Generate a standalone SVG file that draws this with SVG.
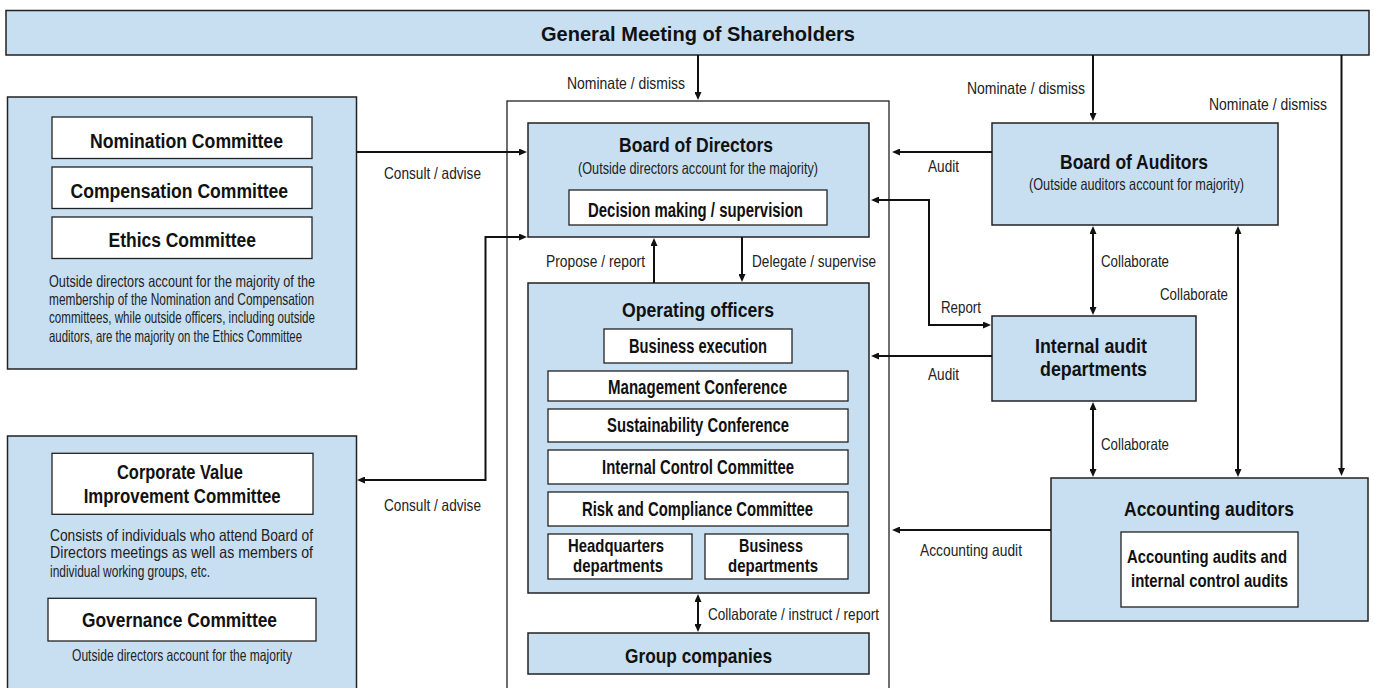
<svg xmlns="http://www.w3.org/2000/svg" width="1375" height="688" viewBox="0 0 1375 688">
<defs>
<marker id="ah" markerUnits="userSpaceOnUse" markerWidth="8" markerHeight="7" refX="3" refY="3.5" orient="auto-start-reverse"><path d="M0,0 L8,3.5 L0,7 z" fill="#111"/></marker>
</defs>
<style>
.blue{fill:#c8dff2;stroke:#222;stroke-width:1.5}
.white{fill:#fff;stroke:#222;stroke-width:1.3}
.frame{fill:none;stroke:#222;stroke-width:1.3}
text{font-family:"Liberation Sans Narrow","Liberation Sans",Arial,sans-serif;fill:#111}
.b{font-weight:bold}
.h1{font-size:21px}
.h2{font-size:19.5px}
.h3{font-size:18.5px}
.l{font-size:16.5px;fill:#222}
.c{fill:none;stroke:#111;stroke-width:2}
</style>
<rect x="0" y="0" width="1375" height="688" fill="#fff"/>

<g id="shareholders">
<rect class="blue" x="6" y="10.5" width="1363" height="44.5"/>
<text class="b h1" x="541" y="40.5" textLength="314" lengthAdjust="spacingAndGlyphs">General Meeting of Shareholders</text>
</g>

<g id="committees">
<rect class="blue" x="7.5" y="97" width="349" height="272"/>
<rect class="white" x="52" y="117" width="260" height="41.5"/>
<text class="b h2" x="90" y="148.3" textLength="193" lengthAdjust="spacingAndGlyphs">Nomination Committee</text>
<rect class="white" x="52" y="167" width="260" height="41.5"/>
<text class="b h2" x="70.6" y="197.5" textLength="217.5" lengthAdjust="spacingAndGlyphs">Compensation Committee</text>
<rect class="white" x="52" y="217" width="260" height="41.5"/>
<text class="b h2" x="108.5" y="247.3" textLength="147.5" lengthAdjust="spacingAndGlyphs">Ethics Committee</text>
<text class="l" x="49" y="286.5" textLength="266" lengthAdjust="spacingAndGlyphs">Outside directors account for the majority of the</text>
<text class="l" x="49" y="305" textLength="265" lengthAdjust="spacingAndGlyphs">membership of the Nomination and Compensation</text>
<text class="l" x="49" y="323.3" textLength="266" lengthAdjust="spacingAndGlyphs">committees, while outside officers, including outside</text>
<text class="l" x="49" y="341.7" textLength="253" lengthAdjust="spacingAndGlyphs">auditors, are the majority on the Ethics Committee</text>
</g>

<g id="corporate-value">
<rect class="blue" x="7.5" y="436" width="349" height="270"/>
<rect class="white" x="52" y="453.3" width="261" height="61"/>
<text class="b h2" x="117" y="479.3" textLength="126" lengthAdjust="spacingAndGlyphs">Corporate Value</text>
<text class="b h2" x="83.7" y="502.7" textLength="197" lengthAdjust="spacingAndGlyphs">Improvement Committee</text>
<text class="l" x="50" y="540.5" textLength="263" lengthAdjust="spacingAndGlyphs">Consists of individuals who attend Board of</text>
<text class="l" x="50" y="558.3" textLength="263" lengthAdjust="spacingAndGlyphs">Directors meetings as well as members of</text>
<text class="l" x="50" y="576.7" textLength="160" lengthAdjust="spacingAndGlyphs">individual working groups, etc.</text>
<rect class="white" x="48" y="598.3" width="268" height="42.7"/>
<text class="b h2" x="82" y="627.3" textLength="195" lengthAdjust="spacingAndGlyphs">Governance Committee</text>
<text class="l" x="72" y="660.7" textLength="220" lengthAdjust="spacingAndGlyphs">Outside directors account for the majority</text>
</g>

<g id="company-frame">
<rect class="frame" x="507" y="101" width="382" height="620"/>
</g>

<g id="board-of-directors">
<rect class="blue" x="528" y="123" width="341" height="114"/>
<text class="b h1" x="619" y="152" textLength="154" lengthAdjust="spacingAndGlyphs">Board of Directors</text>
<text class="l" x="578" y="174" textLength="240" lengthAdjust="spacingAndGlyphs">(Outside directors account for the majority)</text>
<rect class="white" x="569" y="190" width="258" height="35"/>
<text class="b h2" x="588" y="217" textLength="215" lengthAdjust="spacingAndGlyphs">Decision making / supervision</text>
</g>

<g id="operating-officers">
<rect class="blue" x="528" y="283" width="341" height="310"/>
<text class="b h1" x="622" y="316.5" textLength="152" lengthAdjust="spacingAndGlyphs">Operating officers</text>
<rect class="white" x="604" y="329" width="188" height="34"/>
<text class="b h2" x="629" y="353.3" textLength="138" lengthAdjust="spacingAndGlyphs">Business execution</text>
<rect class="white" x="548" y="371" width="300" height="30"/>
<text class="b h2" x="608" y="393.5" textLength="179" lengthAdjust="spacingAndGlyphs">Management Conference</text>
<rect class="white" x="548" y="409" width="300" height="33"/>
<text class="b h2" x="607" y="431.7" textLength="182" lengthAdjust="spacingAndGlyphs">Sustainability Conference</text>
<rect class="white" x="548" y="450" width="300" height="34"/>
<text class="b h2" x="602" y="474" textLength="192" lengthAdjust="spacingAndGlyphs">Internal Control Committee</text>
<rect class="white" x="548" y="492" width="300" height="34"/>
<text class="b h2" x="582" y="515.7" textLength="231" lengthAdjust="spacingAndGlyphs">Risk and Compliance Committee</text>
<rect class="white" x="548" y="534" width="144" height="45"/>
<text class="b h3" x="568" y="552.3" textLength="96" lengthAdjust="spacingAndGlyphs">Headquarters</text>
<text class="b h3" x="573" y="572.3" textLength="90" lengthAdjust="spacingAndGlyphs">departments</text>
<rect class="white" x="705" y="534" width="143" height="45"/>
<text class="b h3" x="739" y="552.3" textLength="64" lengthAdjust="spacingAndGlyphs">Business</text>
<text class="b h3" x="728" y="572.3" textLength="90" lengthAdjust="spacingAndGlyphs">departments</text>
</g>

<g id="group-companies">
<rect class="blue" x="528" y="633" width="341" height="41"/>
<text class="b h1" x="625" y="663" textLength="147" lengthAdjust="spacingAndGlyphs">Group companies</text>
</g>

<g id="board-of-auditors">
<rect class="blue" x="992" y="123" width="286" height="102"/>
<text class="b h1" x="1060" y="169.3" textLength="148" lengthAdjust="spacingAndGlyphs">Board of Auditors</text>
<text class="l" x="1029" y="190" textLength="215" lengthAdjust="spacingAndGlyphs">(Outside auditors account for majority)</text>
</g>

<g id="internal-audit">
<rect class="blue" x="992" y="316" width="204" height="85"/>
<text class="b h1" x="1035" y="352.7" textLength="112" lengthAdjust="spacingAndGlyphs">Internal audit</text>
<text class="b h1" x="1040" y="376" textLength="107" lengthAdjust="spacingAndGlyphs">departments</text>
</g>

<g id="accounting-auditors">
<rect class="blue" x="1051" y="478" width="317" height="143"/>
<text class="b h1" x="1124" y="516" textLength="170" lengthAdjust="spacingAndGlyphs">Accounting auditors</text>
<rect class="white" x="1121" y="532" width="177" height="75"/>
<text class="b h3" x="1127" y="562.7" textLength="160" lengthAdjust="spacingAndGlyphs">Accounting audits and</text>
<text class="b h3" x="1131" y="586.7" textLength="157" lengthAdjust="spacingAndGlyphs">internal control audits</text>
</g>

<g id="connectors">
<path class="c" d="M698,55 V95" marker-end="url(#ah)"/>
<path class="c" d="M1093,55 V116" marker-end="url(#ah)"/>
<path class="c" d="M1341.5,55 V471" marker-end="url(#ah)"/>
<path class="c" d="M357,152 H522" marker-end="url(#ah)"/>
<path class="c" d="M362,480 H485.5 V237 H522" marker-start="url(#ah)" marker-end="url(#ah)"/>
<path class="c" d="M654,283 V243" marker-end="url(#ah)"/>
<path class="c" d="M742,237 V277" marker-end="url(#ah)"/>
<path class="c" d="M992,152 H897" marker-end="url(#ah)"/>
<path class="c" d="M876,200 H929 V325 H986" marker-start="url(#ah)" marker-end="url(#ah)"/>
<path class="c" d="M992,356 H876" marker-end="url(#ah)"/>
<path class="c" d="M1093,231 V310" marker-start="url(#ah)" marker-end="url(#ah)"/>
<path class="c" d="M1238,231 V472" marker-start="url(#ah)" marker-end="url(#ah)"/>
<path class="c" d="M1093,407 V472" marker-start="url(#ah)" marker-end="url(#ah)"/>
<path class="c" d="M698,599 V627" marker-start="url(#ah)" marker-end="url(#ah)"/>
<path class="c" d="M1051,530 H897" marker-end="url(#ah)"/>
<text class="l" x="567" y="89" textLength="118" lengthAdjust="spacingAndGlyphs">Nominate / dismiss</text>
<text class="l" x="967" y="94" textLength="118" lengthAdjust="spacingAndGlyphs">Nominate / dismiss</text>
<text class="l" x="1209" y="110" textLength="118" lengthAdjust="spacingAndGlyphs">Nominate / dismiss</text>
<text class="l" x="384" y="179" textLength="97" lengthAdjust="spacingAndGlyphs">Consult / advise</text>
<text class="l" x="384" y="511" textLength="97" lengthAdjust="spacingAndGlyphs">Consult / advise</text>
<text class="l" x="928" y="171.5" textLength="31" lengthAdjust="spacingAndGlyphs">Audit</text>
<text class="l" x="928" y="380" textLength="31" lengthAdjust="spacingAndGlyphs">Audit</text>
<text class="l" x="546" y="266.5" textLength="99" lengthAdjust="spacingAndGlyphs">Propose / report</text>
<text class="l" x="752" y="266.5" textLength="124" lengthAdjust="spacingAndGlyphs">Delegate / supervise</text>
<text class="l" x="941" y="313" textLength="40" lengthAdjust="spacingAndGlyphs">Report</text>
<text class="l" x="1101" y="266.5" textLength="68" lengthAdjust="spacingAndGlyphs">Collaborate</text>
<text class="l" x="1160" y="300" textLength="68" lengthAdjust="spacingAndGlyphs">Collaborate</text>
<text class="l" x="1101" y="450" textLength="68" lengthAdjust="spacingAndGlyphs">Collaborate</text>
<text class="l" x="708" y="620" textLength="171" lengthAdjust="spacingAndGlyphs">Collaborate / instruct / report</text>
<text class="l" x="920" y="556" textLength="102" lengthAdjust="spacingAndGlyphs">Accounting audit</text>
</g>
</svg>
